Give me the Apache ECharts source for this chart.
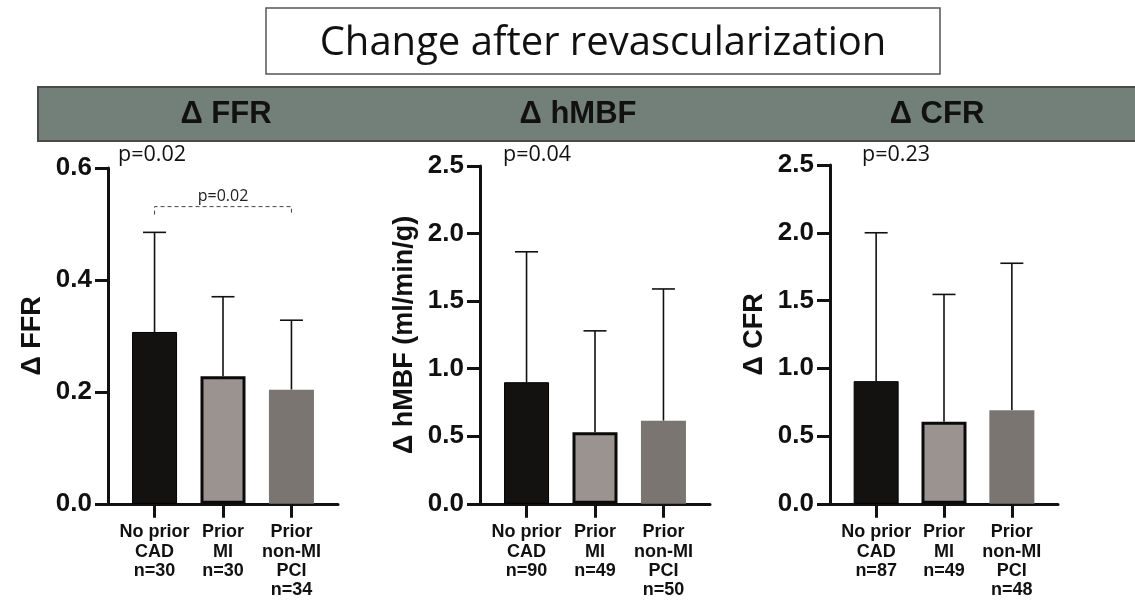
<!DOCTYPE html>
<html><head><meta charset="utf-8">
<script src="https://cdn.jsdelivr.net/npm/echarts@6/dist/echarts.min.js"></script>
<style>html,body{margin:0;padding:0;background:#fff}#c{width:1135px;height:600px}</style>
</head><body><div id="c"></div>
<script>
// ---- data ----
const categories = ['No prior\nCAD', 'Prior\nMI', 'Prior\nnon-MI\nPCI'];
const mainTitle = 'Change after revascularization';
const panelTitles = ['Δ FFR', 'Δ hMBF', 'Δ CFR'];
const yNames = ['Δ FFR', 'Δ hMBF (ml/min/g)', 'Δ CFR'];
const nFFR = [30, 30, 34];
const nHMBF = [90, 49, 50];
const nCFR = [87, 49, 48];
const meanFFR = [0.307, 0.228, 0.204];
const upperFFR = [0.485, 0.370, 0.328];
const meanHMBF = [0.90, 0.53, 0.615];
const upperHMBF = [1.865, 1.28, 1.59];
const meanCFR = [0.905, 0.605, 0.69];
const upperCFR = [2.0, 1.545, 1.775];
const pOverall = ['p=0.02', 'p=0.04', 'p=0.23'];
const pPairFFR = 'p=0.02';
const bracketFFR = [0, 2, 0.531]; // from group, to group, level
const yMax = [0.6, 2.5, 2.5];
const yStep = [0.2, 0.5, 0.5];

// ---- layout / style ----
const grids = [
  {left: 108, top: 168, width: 230, height: 337},
  {left: 480, top: 166, width: 230, height: 339},
  {left: 830, top: 165, width: 228, height: 340}
];
const pOffsets = [10, 23, 32];
const barStyles = [
  {color: '#141210', borderColor: '#000', borderWidth: 1},
  {color: '#9b9390', borderColor: '#0a0a0a', borderWidth: 3},
  {color: '#7a7571', borderWidth: 0}
];
const AX = '#111';
const FONT = '"Liberation Sans", Arial, sans-serif';

const panels = [
  {mean: meanFFR, upper: upperFFR, n: nFFR},
  {mean: meanHMBF, upper: upperHMBF, n: nHMBF},
  {mean: meanCFR, upper: upperCFR, n: nCFR}
];

const xAxes = [], yAxes = [], series = [];
panels.forEach((p, k) => {
  const labels = categories.map((c, i) => c + '\nn=' + p.n[i]);
  xAxes.push({
    type: 'value', gridIndex: k, min: -0.68, max: 2.68,
    axisLine: {show: true, onZero: false, lineStyle: {color: AX, width: 3}},
    axisTick: {show: true, customValues: [0, 1, 2], length: 14, lineStyle: {color: AX, width: 3}},
    axisLabel: {show: true, customValues: [0, 1, 2], margin: 19, formatter: v => labels[Math.round(v)],
      fontFamily: FONT, fontWeight: 'bold', fontSize: 18, lineHeight: 19.3, color: '#111'},
    splitLine: {show: false}
  });
  yAxes.push({
    type: 'value', gridIndex: k, min: 0, max: yMax[k], interval: yStep[k],
    name: yNames[k], nameLocation: 'middle', nameGap: 62,
    nameTextStyle: {fontFamily: FONT, fontWeight: 'bold', fontSize: 27, color: '#111'},
    axisLine: {show: true, onZero: false, lineStyle: {color: AX, width: 3}},
    axisTick: {show: true, length: 13, lineStyle: {color: AX, width: 3}},
    axisLabel: {margin: 16, formatter: v => v.toFixed(1), fontFamily: FONT, fontWeight: 'bold', fontSize: 26, color: '#111'},
    splitLine: {show: false}
  });
  series.push({
    type: 'custom', xAxisIndex: k, yAxisIndex: k, z: 1,
    data: p.mean.map((m, i) => [i, m, p.upper[i]]),
    renderItem: (params, api) => {
      const x = api.value(0);
      const a = api.coord([x, api.value(1)]);
      const b = api.coord([x, api.value(2)]);
      return {type: 'group', children: [
        {type: 'line', shape: {x1: a[0], y1: a[1], x2: b[0], y2: b[1]}, style: {stroke: '#111', lineWidth: 1.6}},
        {type: 'line', shape: {x1: b[0] - 11.5, y1: b[1], x2: b[0] + 11.5, y2: b[1]}, style: {stroke: '#111', lineWidth: 1.6}}
      ]};
    }
  });
  series.push({
    type: 'bar', xAxisIndex: k, yAxisIndex: k, barWidth: 45, z: 2,
    data: p.mean.map((m, i) => ({value: [i, m], itemStyle: barStyles[i]}))
  });
});

// bracket for FFR pairwise comparison
series.push({
  type: 'custom', xAxisIndex: 0, yAxisIndex: 0, z: 3,
  data: [bracketFFR],
  renderItem: (params, api) => {
    const a = api.coord([api.value(0), api.value(2)]);
    const b = api.coord([api.value(1), api.value(2)]);
    const drop = 8;
    return {type: 'group', children: [
      {type: 'polyline', shape: {points: [[a[0], a[1] + drop], [a[0], a[1]], [b[0], b[1]], [b[0], b[1] + drop]]},
        style: {stroke: '#444', lineWidth: 1, fill: null, lineDash: [4, 3]}},
      {type: 'text', x: (a[0] + b[0]) / 2, y: a[1] - 2,
        style: {text: pPairFFR, fill: '#222', font: '16px "Open Sans", sans-serif', align: 'center', verticalAlign: 'bottom'}}
    ]};
  }
});

const graphic = [
  {type: 'rect', shape: {x: 266, y: 8, width: 674, height: 66}, style: {fill: '#fff', stroke: '#555', lineWidth: 1.5}},
  {type: 'text', x: 603, y: 44, style: {text: mainTitle, fill: '#111', font: '40px "Open Sans", sans-serif', align: 'center', verticalAlign: 'middle'}},
  {type: 'rect', shape: {x: 38, y: 87, width: 1110, height: 54}, style: {fill: '#737f79', stroke: '#4a4a4a', lineWidth: 2}}
];
const headerX = [226, 578, 937];
panelTitles.forEach((t, k) => {
  graphic.push({type: 'text', x: headerX[k], y: 114, style: {text: t, fill: '#111', font: 'bold 31px ' + FONT, align: 'center', verticalAlign: 'middle'}});
  graphic.push({type: 'text', x: grids[k].left + pOffsets[k], y: 155, style: {text: pOverall[k], fill: '#111', font: '21.5px "Open Sans", sans-serif', align: 'left', verticalAlign: 'middle'}});
});

const chart = echarts.init(document.getElementById('c'), null, {renderer: 'canvas'});
chart.setOption({
  backgroundColor: '#fff',
  animation: false,
  grid: grids,
  xAxis: xAxes,
  yAxis: yAxes,
  series: series,
  graphic: graphic
});
</script></body></html>
